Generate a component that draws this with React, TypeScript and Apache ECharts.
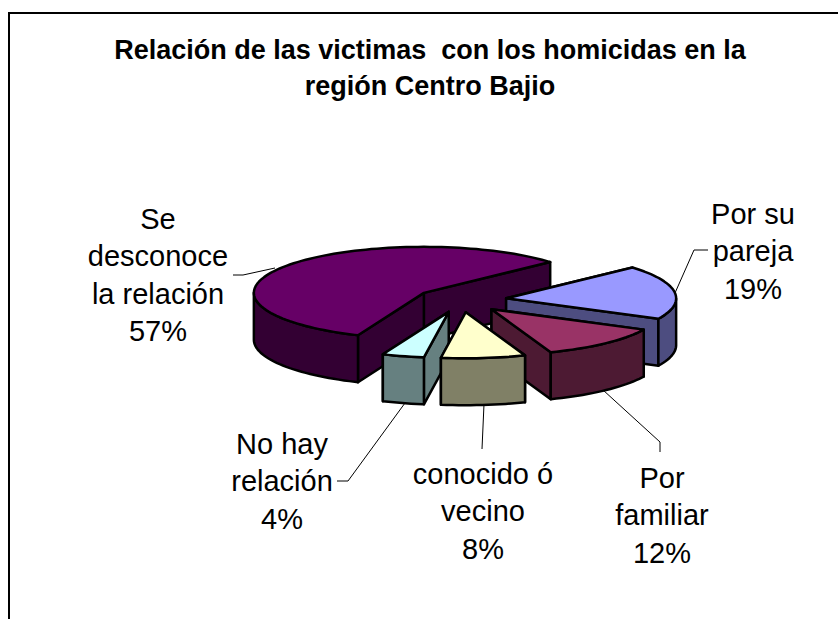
import React, { useEffect, useRef } from "react";
import * as echarts from "echarts";

const titleText = "Relación de las victimas  con los homicidas en la\nregión Centro Bajio";
const sliceNames = ["Por su\npareja", "Por\nfamiliar", "conocido ó\nvecino", "No hay\nrelación", "Se\ndesconoce\nla relación"];
const sliceValues = [19, 12, 8, 4, 57];
const topColors = ["#9999FF", "#993366", "#FFFFCC", "#CCFFFF", "#660066"];
const sideColors = ["#4D4D80", "#4D1A33", "#808066", "#668080", "#330033"];
const paintOrder = [4, 0, 1, 3, 2];

const FIRST_ANGLE = 42;
const EXPLODE = 0.268;
const DEPTH = 1.02;
const FONT = "'Liberation Sans', Arial, sans-serif";

const labelCenters = [[753, 251], [662, 515], [483, 511], [282, 481], [158, 275]];
const leaderLines = [
  [[675, 293], [694, 250], [708, 250]],
  [[603, 390], [660, 442], [660, 452]],
  [[484, 404], [482, 449]],
  [[405, 403], [348, 481], [337, 481]],
  [[275, 268], [243, 275], [233, 275]],
];

function sliceRange(index: number) {
  const total = sliceValues.reduce((a, b) => a + b, 0);
  let end = FIRST_ANGLE;
  for (let i = 0; i < index; i++) end -= (sliceValues[i] / total) * 360;
  const start = end - (sliceValues[index] / total) * 360;
  return [start, end];
}

const rad = (d: number) => (d * Math.PI) / 180;

const renderItem = (params: any, api: any) => {
  const index = api.value(0) as number;
  const [a0, a1] = sliceRange(index);
  const mid = (a0 + a1) / 2;
  const cx = EXPLODE * Math.cos(rad(mid));
  const cy = EXPLODE * Math.sin(rad(mid));
  const pt = (x: number, y: number) => api.coord([x, y]);
  const rim = (a: number, drop = 0) => pt(cx + Math.cos(rad(a)), cy + Math.sin(rad(a)) - drop);
  const tipTop = pt(cx, cy);
  const tipBottom = pt(cx, cy - DEPTH);

  const base = { stroke: "#000", lineWidth: 2.5, lineJoin: "round" };
  const poly = (points: number[][], fill: string) => ({
    type: "polygon",
    shape: { points },
    style: { ...base, fill },
  });

  const arc: number[] = [];
  for (let a = a0; a < a1; a += 2) arc.push(a);
  arc.push(a1);

  const radialFront = (a: number, other: number) => {
    const q = rim(a);
    const m = rim(other);
    const cross = (q[0] - tipTop[0]) * (m[1] - tipTop[1]) - (q[1] - tipTop[1]) * (m[0] - tipTop[0]);
    const dir = q[0] - tipTop[0];
    return dir > 0 ? cross < 0 : cross > 0;
  };
  const wall = (a: number) => poly([tipTop, rim(a), rim(a, DEPTH), tipBottom], sideColors[index]);
  const walls = [a0, a1]
    .map((a, i) => ({ el: wall(a), front: radialFront(a, i === 0 ? a1 : a0) }))
    .sort((p, q) => Number(p.front) - Number(q.front))
    .map((w) => w.el);

  const frontArc = arc.filter((a) => {
    const n = ((a % 360) + 360) % 360;
    return n >= 180 && n <= 360;
  });
  const children: any[] = [...walls];
  if (frontArc.length > 1) {
    children.push(
      poly(
        [...frontArc.map((a) => rim(a)), ...frontArc.slice().reverse().map((a) => rim(a, DEPTH))],
        sideColors[index]
      )
    );
  }
  children.push(poly([tipTop, ...arc.map((a) => rim(a))], topColors[index]));
  return { type: "group", children };
};

export default function App() {
  const ref = useRef<HTMLDivElement>(null);
  useEffect(() => {
    const chart = echarts.init(ref.current!, undefined, { renderer: "svg" });
    chart.setOption({
      animation: false,
      backgroundColor: "#fff",
      title: {
        text: titleText,
        left: 425,
        top: 27,
        textAlign: "center",
        textStyle: {
          fontFamily: FONT,
          fontWeight: "bold",
          fontSize: 27,
          lineHeight: 36,
          color: "#000",
        },
      },
      grid: { left: 121, top: 208, width: 680, height: 184 },
      xAxis: { type: "value", min: -2, max: 2, show: false },
      yAxis: { type: "value", min: -2, max: 2, show: false },
      series: [
        {
          type: "custom",
          coordinateSystem: "cartesian2d",
          clip: false,
          silent: true,
          renderItem,
          data: paintOrder.map((i) => [i, sliceValues[i]]),
        },
      ],
      graphic: [
        {
          type: "polyline",
          shape: { points: [[9, 619], [9, 13], [838, 13]] },
          style: { stroke: "#000", lineWidth: 2, fill: "none" },
          silent: true,
        },
        ...leaderLines.map((points) => ({
          type: "polyline",
          shape: { points },
          style: { stroke: "#000", lineWidth: 1, fill: "none" },
          silent: true,
        })),
        ...sliceNames.map((name, i) => ({
          type: "text",
          x: labelCenters[i][0],
          y: labelCenters[i][1],
          silent: true,
          style: {
            text: `${name}\n${sliceValues[i]}%`,
            fontFamily: FONT,
            fontSize: 29,
            lineHeight: 37.5,
            fill: "#000",
            align: "center",
            verticalAlign: "middle",
          },
        })),
      ],
    });
    return () => chart.dispose();
  }, []);
  return (
    <div
      ref={ref}
      style={{ position: "absolute", left: 0, top: 0, width: 838, height: 619, overflow: "hidden" }}
    />
  );
}
